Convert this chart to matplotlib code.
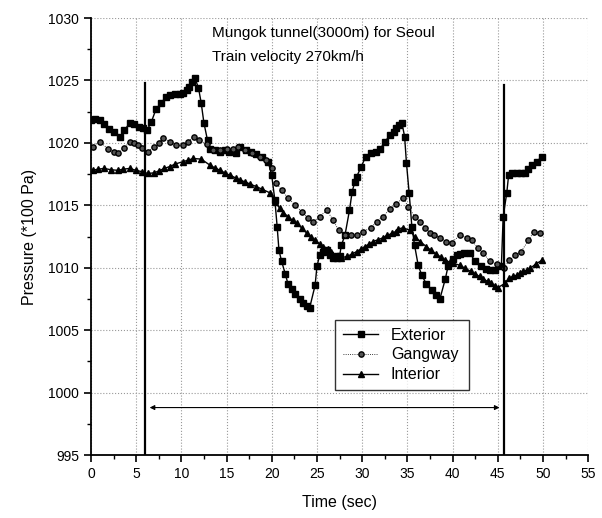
import matplotlib.pyplot as plt
from matplotlib.ticker import MultipleLocator

plt.rcParams['font.family'] = ['Liberation Sans', 'DejaVu Sans']

# exterior pressure (time in s, pressure in 100 Pa)
ext_t = [0.0, 0.5, 1.0, 1.5, 2.0, 2.5, 3.2, 3.7, 4.3, 4.8, 5.3, 5.8, 6.2,
         6.7, 7.2, 7.8, 8.3, 8.8, 9.3, 9.8, 10.2, 10.6, 10.9, 11.2, 11.5,
         11.9, 12.2, 12.5, 12.9, 13.2, 13.7, 14.3, 14.8, 15.3, 16.1, 16.5,
         17.2, 17.7, 18.3, 18.9, 19.6, 20.0, 20.35, 20.6, 20.8, 21.1, 21.5,
         21.8, 22.2, 22.6, 23.1, 23.5, 23.9, 24.2, 24.8, 25.0, 25.3, 25.7,
         26.1, 26.5, 26.8, 27.2, 27.5, 27.7, 28.1, 28.6, 28.9, 29.2, 29.4,
         29.9, 30.4, 31.0, 31.5, 32.0, 32.5, 33.1, 33.5, 33.8, 34.1, 34.4,
         34.7, 34.9, 35.2, 35.5, 35.8, 36.2, 36.6, 37.1, 37.7, 38.2, 38.6,
         39.2, 39.5, 40.1, 40.5, 40.8, 41.3, 41.9, 42.5, 43.2, 43.7, 44.1,
         44.7, 45.4, 45.6, 46.0, 46.2, 46.6, 47.1, 47.6, 48.0, 48.4, 48.8,
         49.3, 49.9]
ext_p = [1021.8, 1021.9, 1021.8, 1021.5, 1021.1, 1020.9, 1020.5, 1021.0,
         1021.6, 1021.5, 1021.3, 1021.2, 1021.0, 1021.7, 1022.7, 1023.2,
         1023.7, 1023.8, 1023.9, 1023.9, 1024.0, 1024.2, 1024.5, 1024.9,
         1025.2, 1024.4, 1023.2, 1021.6, 1020.2, 1019.5, 1019.4, 1019.3,
         1019.4, 1019.3, 1019.2, 1019.7, 1019.4, 1019.3, 1019.1, 1018.9,
         1018.5, 1017.4, 1015.4, 1013.3, 1011.4, 1010.5, 1009.5, 1008.7,
         1008.3, 1007.9, 1007.5, 1007.2, 1006.9, 1006.8, 1008.6, 1010.1,
         1011.0, 1011.3, 1011.4, 1011.0, 1010.8, 1010.9, 1010.9, 1011.8,
         1012.6, 1014.6, 1016.1, 1016.9, 1017.3, 1018.1, 1018.9, 1019.2,
         1019.3, 1019.5, 1020.1, 1020.6, 1020.9, 1021.2, 1021.4, 1021.6,
         1020.5, 1018.4, 1016.0, 1013.3, 1011.8, 1010.2, 1009.4, 1008.7,
         1008.2, 1007.8, 1007.5, 1009.1, 1010.1, 1010.7, 1011.0, 1011.1,
         1011.2, 1011.2, 1010.5, 1010.1, 1009.9, 1009.8, 1009.8, 1010.1,
         1014.1, 1016.0, 1017.4, 1017.6, 1017.6, 1017.6, 1017.6, 1017.9,
         1018.2, 1018.5, 1018.9]

# gangway pressure
gang_t = [0.2, 1.0, 1.9, 2.5, 3.0, 3.7, 4.3, 4.8, 5.2, 5.7, 6.3, 7.0, 7.5,
          8.0, 8.7, 9.4, 10.2, 10.7, 11.4, 12.0, 12.8, 13.5, 14.3, 15.0,
          15.7, 16.3, 17.0, 17.8, 18.7, 19.4, 20.0, 20.5, 21.1, 21.8, 22.6,
          23.3, 24.0, 24.6, 25.3, 26.1, 26.8, 27.4, 28.1, 28.8, 29.4, 30.1,
          31.0, 31.6, 32.3, 33.1, 33.8, 34.5, 35.1, 35.8, 36.4, 37.0, 37.5,
          38.0, 38.6, 39.3, 39.9, 40.8, 41.6, 42.1, 42.8, 43.4, 44.1, 44.9,
          45.7, 46.3, 46.9, 47.6, 48.4, 49.0, 49.7]
gang_p = [1019.7, 1020.1, 1019.5, 1019.3, 1019.2, 1019.6, 1020.1, 1020.0,
          1019.8, 1019.6, 1019.3, 1019.7, 1020.0, 1020.4, 1020.1, 1019.8,
          1019.8, 1020.1, 1020.5, 1020.2, 1019.9, 1019.4, 1019.4, 1019.5,
          1019.5, 1019.7, 1019.4, 1019.2, 1018.9, 1018.6, 1018.0, 1016.8,
          1016.2, 1015.6, 1015.0, 1014.5, 1014.0, 1013.7, 1014.1, 1014.6,
          1013.8, 1013.0, 1012.6, 1012.6, 1012.6, 1012.9, 1013.2, 1013.7,
          1014.1, 1014.7, 1015.1, 1015.6, 1014.9, 1014.1, 1013.7, 1013.2,
          1012.8, 1012.6, 1012.4, 1012.1, 1012.0, 1012.6, 1012.4, 1012.2,
          1011.6, 1011.2, 1010.5, 1010.3, 1010.0, 1010.6, 1011.0, 1011.3,
          1012.2, 1012.9, 1012.8]

# interior pressure
int_t = [0.2, 0.8, 1.5, 2.2, 3.0, 3.6, 4.3, 5.0, 5.6, 6.3, 7.0, 7.5, 8.1,
         8.7, 9.3, 10.2, 10.7, 11.3, 12.2, 13.2, 13.7, 14.3, 14.8, 15.4,
         16.0, 16.5, 17.0, 17.6, 18.3, 18.9, 19.8, 20.35, 20.9, 21.3, 21.8,
         22.3, 22.75, 23.3, 23.9, 24.3, 24.8, 25.3, 25.7, 26.2, 26.6, 27.2,
         27.7, 28.3, 28.9, 29.4, 29.9, 30.3, 30.8, 31.2, 31.8, 32.3, 32.8,
         33.3, 33.7, 34.0, 34.5, 35.3, 35.8, 36.4, 37.1, 37.6, 38.2, 38.7,
         39.2, 39.7, 40.1, 40.8, 41.4, 42.0, 42.5, 43.0, 43.4, 43.9, 44.3,
         44.7, 45.0, 45.8, 46.3, 46.7, 47.1, 47.5, 47.8, 48.2, 48.6, 49.2,
         49.9]
int_p = [1017.8, 1017.9, 1017.95, 1017.85, 1017.8, 1017.9, 1017.95, 1017.8,
         1017.7, 1017.55, 1017.6, 1017.75, 1017.95, 1018.1, 1018.3, 1018.5,
         1018.6, 1018.75, 1018.7, 1018.2, 1018.0, 1017.8, 1017.6, 1017.4,
         1017.2, 1017.0, 1016.9, 1016.7, 1016.5, 1016.3, 1016.0, 1015.3,
         1014.75, 1014.4, 1014.1, 1013.8, 1013.55, 1013.2, 1012.75, 1012.5,
         1012.2, 1011.9, 1011.7, 1011.5, 1011.3, 1010.8, 1010.8, 1010.9,
         1011.1, 1011.3, 1011.5, 1011.7, 1011.9, 1012.1, 1012.25, 1012.4,
         1012.6, 1012.75, 1012.9, 1013.1, 1013.2, 1013.0, 1012.5, 1012.1,
         1011.7, 1011.4, 1011.1, 1010.85, 1010.6, 1010.45, 1010.35, 1010.2,
         1009.95, 1009.7, 1009.5, 1009.3, 1009.1, 1008.9, 1008.75, 1008.55,
         1008.4, 1008.75, 1009.2, 1009.3, 1009.4, 1009.55, 1009.7, 1009.8,
         1009.95, 1010.3, 1010.6]

# tunnel entry / exit times
t_entry = 6.0
t_exit = 45.7

fig = plt.figure(figsize=(6.02, 5.18), dpi=100)
ax = fig.add_axes([0.151, 0.1216, 0.826, 0.8436])

ax.plot(ext_t, ext_p, color='black', lw=1.0, marker='s', ms=4.6,
        label='Exterior')
ax.plot(gang_t, gang_p, color='black', lw=0.6, ls=':', marker='o', ms=3.8,
        mfc='#555555', mec='black', label='Gangway')
ax.plot(int_t, int_p, color='black', lw=1.0, marker='^', ms=4.8,
        label='Interior')

ax.plot([t_entry, t_entry], [995, 1024.8], color='black', lw=1.6)
ax.plot([t_exit, t_exit], [995, 1024.6], color='black', lw=1.6)
ax.annotate('', xy=(6.5, 998.8), xytext=(45.2, 998.8),
            arrowprops=dict(arrowstyle='<|-|>', color='black', lw=0.8,
                            mutation_scale=7, shrinkA=0, shrinkB=0))

ax.text(13.4, 1028.8, 'Mungok tunnel(3000m) for Seoul', fontsize=11,
        va='center')
ax.text(13.4, 1026.9, 'Train velocity 270km/h', fontsize=11, va='center')

ax.set_xlim(0, 55)
ax.set_ylim(995, 1030)
ax.xaxis.set_major_locator(MultipleLocator(5))
ax.xaxis.set_minor_locator(MultipleLocator(2.5))
ax.yaxis.set_major_locator(MultipleLocator(5))
ax.yaxis.set_minor_locator(MultipleLocator(2.5))
ax.tick_params(which='major', direction='out', length=5, width=1.2,
               labelsize=10)
ax.tick_params(which='minor', direction='out', length=3, width=1.0)
ax.grid(True, which='major', ls=':', color='#999999', lw=0.8)

for side in ['top', 'right']:
    ax.spines[side].set_visible(False)
for side in ['left', 'bottom']:
    ax.spines[side].set_linewidth(1.3)

ax.set_xlabel('Time (sec)', fontsize=11.5, labelpad=10)
ax.set_ylabel('Pressure (*100 Pa)', fontsize=11.5, labelpad=8)

leg = ax.legend(loc='lower left', bbox_to_anchor=(0.475, 0.13, 0.302, 0.19),
                mode='expand', fontsize=11.5, frameon=True, fancybox=False,
                edgecolor='black', handlelength=2.2, borderpad=0.5,
                labelspacing=0.3)
leg.get_frame().set_linewidth(1.0)

fig.savefig('out.png', dpi=100)
